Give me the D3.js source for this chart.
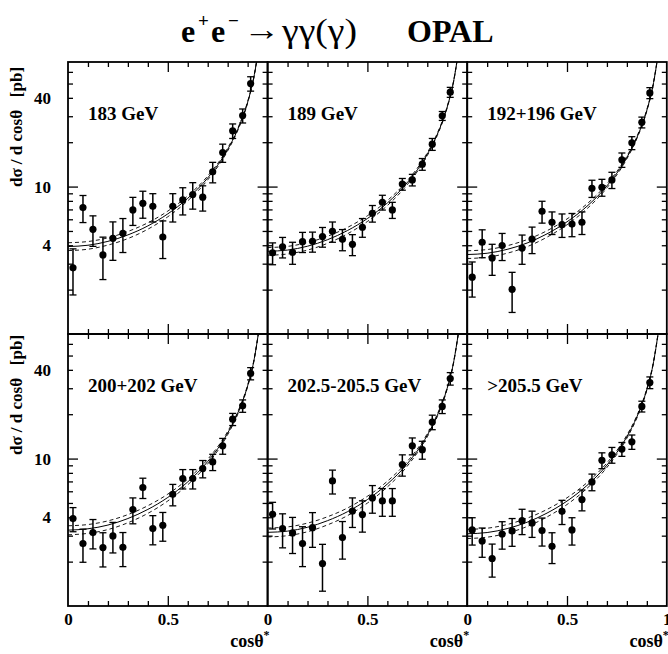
<!DOCTYPE html>
<html>
<head>
<meta charset="utf-8">
<script src="https://cdn.jsdelivr.net/npm/d3@7"></script>
<style>
body { margin: 0; background: #fff; }
svg { display: block; font-family: "Liberation Serif", "Times New Roman", serif; font-weight: bold; }
</style>
</head>
<body>
<svg id="svg_opal" width="668" height="654"></svg>
<script>
// energy points, one panel each
var panelLabels = ["183 GeV", "189 GeV", "192+196 GeV", "200+202 GeV", "202.5-205.5 GeV", ">205.5 GeV"];

// bin centres in cos theta*
var binCentres = [0.025, 0.075, 0.125, 0.175, 0.225, 0.275, 0.325, 0.375, 0.425, 0.475,
	0.525, 0.575, 0.625, 0.675, 0.725, 0.775, 0.825, 0.875, 0.915];

// measured d sigma / d cos theta [pb] and errors
var xsec183 = [2.81, 7.2, 5.13, 3.44, 4.46, 4.82, 6.95, 7.7, 7.35, 4.55, 7.35, 8.12, 8.83, 8.47, 12.6, 17.0, 23.9, 30.3, 50.0];
var err183 = [0.97, 1.5, 1.2, 1.1, 1.3, 1.25, 1.5, 1.6, 1.6, 1.3, 1.6, 1.7, 1.8, 1.65, 2.0, 2.4, 2.7, 3.3, 5.6];
var xsec189 = [3.55, 3.90, 3.58, 4.23, 4.25, 4.58, 4.97, 4.39, 4.06, 5.30, 6.59, 7.83, 6.95, 10.4, 11.1, 14.2, 19.4, 30.2, 43.7];
var err189 = [0.6, 0.62, 0.61, 0.66, 0.66, 0.7, 0.78, 0.72, 0.66, 0.77, 0.85, 0.9, 0.87, 0.95, 1.0, 1.3, 1.8, 2.1, 3.4];
var xsec194 = [2.43, 4.19, 3.28, 3.98, 2.01, 3.83, 4.41, 6.80, 5.73, 5.52, 5.57, 5.73, 9.74, 9.9, 11.1, 15.2, 19.8, 27.3, 43.2];
var err194 = [0.65, 0.9, 0.78, 0.83, 0.61, 0.86, 0.9, 1.15, 1.0, 1.0, 1.0, 1.0, 1.3, 1.3, 1.4, 1.7, 2.0, 2.3, 3.7];
var xsec201 = [3.92, 2.65, 3.15, 2.49, 2.99, 2.50, 4.51, 6.36, 3.35, 3.53, 5.73, 7.32, 7.32, 8.55, 9.49, 12.2, 18.5, 22.8, 37.8];
var err201 = [0.73, 0.67, 0.71, 0.65, 0.7, 0.65, 0.9, 1.0, 0.75, 0.78, 0.95, 1.1, 1.1, 1.15, 1.2, 1.5, 1.75, 2.2, 3.6];
var xsec204 = [4.19, 3.35, 3.13, 2.65, 3.40, 1.94, 7.05, 2.91, 4.41, 4.17, 5.41, 5.16, 5.16, 9.10, 12.2, 11.5, 17.7, 22.6, 34.9];
var err204 = [0.86, 0.87, 0.86, 0.8, 0.9, 0.68, 1.3, 0.83, 1.0, 1.0, 1.15, 1.1, 1.1, 1.5, 1.6, 1.6, 2.0, 2.4, 3.4];
var xsec206 = [3.28, 2.76, 2.10, 3.08, 3.23, 3.79, 3.66, 3.25, 2.54, 4.39, 3.28, 5.27, 6.95, 9.74, 10.6, 11.6, 13.0, 22.6, 32.8];
var err206 = [0.69, 0.62, 0.53, 0.65, 0.69, 0.74, 0.74, 0.7, 0.6, 0.82, 0.69, 0.85, 0.9, 1.2, 1.3, 1.25, 1.45, 1.9, 3.0];

// QED prediction (solid) and the two dashed limit curves, read at these cos theta* values
var curveCos = [0, 0.1, 0.2, 0.3, 0.4, 0.5, 0.6, 0.7, 0.8, 0.85, 0.9, 0.93, 0.96];
var qed183 = [3.92, 4.00, 4.25, 4.70, 5.41, 6.53, 8.33, 11.45, 17.86, 24.33, 37.34, 54.10, 96.08];
var lamPlus183 = [4.16, 4.24, 4.49, 4.96, 5.68, 6.82, 8.65, 11.80, 18.25, 24.74, 37.77, 54.54, 96.53];
var lamMinus183 = [3.68, 3.76, 4.01, 4.44, 5.14, 6.24, 8.01, 11.10, 17.47, 23.92, 36.91, 53.66, 95.63];
var qed189 = [3.64, 3.71, 3.94, 4.36, 5.03, 6.07, 7.74, 10.64, 16.58, 22.59, 34.67, 50.23, 89.22];
var lamPlus189 = [3.86, 3.93, 4.17, 4.60, 5.28, 6.34, 8.04, 10.97, 16.94, 22.97, 35.07, 50.64, 89.64];
var lamMinus189 = [3.42, 3.49, 3.71, 4.12, 4.78, 5.80, 7.44, 10.31, 16.22, 22.21, 34.27, 49.82, 88.80];
var qed194 = [3.46, 3.53, 3.75, 4.14, 4.78, 5.77, 7.35, 10.11, 15.76, 21.48, 32.96, 47.75, 84.80];
var lamPlus194 = [3.67, 3.74, 3.97, 4.37, 5.02, 6.03, 7.63, 10.42, 16.10, 21.84, 33.34, 48.14, 85.20];
var lamMinus194 = [3.25, 3.32, 3.53, 3.91, 4.54, 5.51, 7.07, 9.80, 15.42, 21.12, 32.58, 47.36, 84.40];
var qed201 = [3.27, 3.34, 3.54, 3.92, 4.52, 5.45, 6.95, 9.55, 14.90, 20.30, 31.15, 45.13, 80.15];
var lamPlus201 = [3.50, 3.57, 3.78, 4.17, 4.79, 5.74, 7.26, 9.89, 15.28, 20.69, 31.56, 45.56, 80.59];
var lamMinus201 = [3.04, 3.11, 3.30, 3.67, 4.25, 5.16, 6.64, 9.21, 14.52, 19.91, 30.74, 44.70, 79.71];
var qed204 = [3.16, 3.22, 3.42, 3.79, 4.36, 5.27, 6.72, 9.23, 14.40, 19.61, 30.10, 43.61, 77.45];
var lamPlus204 = [3.38, 3.44, 3.65, 4.03, 4.62, 5.55, 7.02, 9.56, 14.76, 19.99, 30.50, 44.02, 77.88];
var lamMinus204 = [2.94, 3.00, 3.19, 3.55, 4.10, 4.99, 6.42, 8.90, 14.04, 19.23, 29.70, 43.20, 77.02];
var qed206 = [3.09, 3.15, 3.35, 3.70, 4.27, 5.15, 6.57, 9.03, 14.08, 19.18, 29.44, 42.64, 75.74];
var lamPlus206 = [3.31, 3.37, 3.57, 3.94, 4.52, 5.42, 6.86, 9.35, 14.43, 19.55, 29.83, 43.05, 76.16];
var lamMinus206 = [2.87, 2.93, 3.12, 3.46, 4.02, 4.88, 6.28, 8.71, 13.73, 18.81, 29.05, 42.24, 75.32];

// axis ticks
var xMinorTicks = [0.1, 0.2, 0.3, 0.4, 0.6, 0.7, 0.8, 0.9];
var xMajorTicks = [0.5];
var yMinorTicks = [2, 3, 4, 5, 6, 7, 8, 9, 20, 30, 40, 50, 60];
var yMajorTicks = [10];
var xTickLabels = [0, 0.5, 1];
var yTickLabels = [4, 10, 40];

var panels = [
	{label: panelLabels[0], val: xsec183, err: err183, qed: qed183, lp: lamPlus183, lm: lamMinus183},
	{label: panelLabels[1], val: xsec189, err: err189, qed: qed189, lp: lamPlus189, lm: lamMinus189},
	{label: panelLabels[2], val: xsec194, err: err194, qed: qed194, lp: lamPlus194, lm: lamMinus194},
	{label: panelLabels[3], val: xsec201, err: err201, qed: qed201, lp: lamPlus201, lm: lamMinus201},
	{label: panelLabels[4], val: xsec204, err: err204, qed: qed204, lp: lamPlus204, lm: lamMinus204},
	{label: panelLabels[5], val: xsec206, err: err206, qed: qed206, lp: lamPlus206, lm: lamMinus206}
];

var svg = d3.select("#svg_opal"),
	panelW = 199.6,
	panelH = 272,
	marginLeft = 68,
	marginTop = 62;

var x = d3.scaleLinear().domain([0, 1]).range([0, panelW]);
var y = d3.scaleLog().domain([1, 70]).range([panelH, 0]);

svg.append("defs").append("clipPath").attr("id", "panel_clip")
	.append("rect").attr("width", panelW).attr("height", panelH);

function tickAxis(g, axis, values, size) {
	g.call(axis.tickValues(values).tickSize(-size).tickFormat(""));
	g.select(".domain").remove();
	g.selectAll("line").attr("stroke", "#000").attr("stroke-width", 1.3);
}

function renderPanel(p, i) {
	var col = i % 3, row = Math.floor(i / 3);
	var g = svg.append("g")
		.attr("transform", "translate(" + (marginLeft + col * panelW) + "," + (marginTop + row * panelH) + ")");

	// curves
	var curvePts = function(arr) {
		return arr.map(function(v, k) { return {c: curveCos[k], v: v}; });
	};
	var line = d3.line()
		.x(function(d) { return x(d.c); })
		.y(function(d) { return y(d.v); })
		.curve(d3.curveMonotoneX);
	var gc = g.append("g").attr("clip-path", "url(#panel_clip)");
	gc.append("path").attr("d", line(curvePts(p.lp)))
		.attr("fill", "none").attr("stroke", "#000").attr("stroke-width", 0.9)
		.attr("stroke-dasharray", "4,3");
	gc.append("path").attr("d", line(curvePts(p.lm)))
		.attr("fill", "none").attr("stroke", "#000").attr("stroke-width", 0.9)
		.attr("stroke-dasharray", "4,3");
	gc.append("path").attr("d", line(curvePts(p.qed)))
		.attr("fill", "none").attr("stroke", "#000").attr("stroke-width", 1);

	// data points with error bars
	var pts = p.val.map(function(v, k) {
		return {c: binCentres[k], v: v, e: p.err[k]};
	});
	var gp = g.append("g").selectAll("g").data(pts).enter().append("g");
	gp.append("line")
		.attr("x1", function(d) { return x(d.c); })
		.attr("x2", function(d) { return x(d.c); })
		.attr("y1", function(d) { return y(d.v - d.e); })
		.attr("y2", function(d) { return y(d.v + d.e); })
		.attr("stroke", "#000").attr("stroke-width", 1.5);
	[-1, 1].forEach(function(s) {
		gp.append("line")
			.attr("x1", function(d) { return x(d.c) - 3.5; })
			.attr("x2", function(d) { return x(d.c) + 3.5; })
			.attr("y1", function(d) { return y(d.v + s * d.e); })
			.attr("y2", function(d) { return y(d.v + s * d.e); })
			.attr("stroke", "#000").attr("stroke-width", 1.3);
	});
	gp.append("circle")
		.attr("cx", function(d) { return x(d.c); })
		.attr("cy", function(d) { return y(d.v); })
		.attr("r", 3.6)
		.attr("fill", "#000");

	// inward ticks on all four sides
	tickAxis(g.append("g").attr("transform", "translate(0," + panelH + ")"), d3.axisBottom(x), xMinorTicks, 5);
	tickAxis(g.append("g").attr("transform", "translate(0," + panelH + ")"), d3.axisBottom(x), xMajorTicks, 10);
	tickAxis(g.append("g"), d3.axisTop(x), xMinorTicks, 5);
	tickAxis(g.append("g"), d3.axisTop(x), xMajorTicks, 10);
	tickAxis(g.append("g"), d3.axisLeft(y), yMinorTicks, 5);
	tickAxis(g.append("g"), d3.axisLeft(y), yMajorTicks, 10);
	tickAxis(g.append("g").attr("transform", "translate(" + panelW + ",0)"), d3.axisRight(y), yMinorTicks, 5);
	tickAxis(g.append("g").attr("transform", "translate(" + panelW + ",0)"), d3.axisRight(y), yMajorTicks, 10);

	g.append("rect")
		.attr("width", panelW).attr("height", panelH)
		.attr("fill", "none").attr("stroke", "#000").attr("stroke-width", 1.8);

	g.append("text")
		.attr("x", 20).attr("y", 58)
		.attr("font-size", 19)
		.text(p.label);

	if (col == 0) {
		var ya = g.append("g")
			.call(d3.axisLeft(y).tickValues(yTickLabels).tickSize(0).tickPadding(17).tickFormat(d3.format("d")));
		ya.select(".domain").remove();
		ya.attr("font-family", null).attr("font-size", 17);

		g.append("text")
			.attr("transform", "translate(-46," + (row == 0 ? 65 : 61) + ") rotate(-90)")
			.attr("text-anchor", "middle")
			.attr("font-size", 17)
			.style("white-space", "pre")
			.text("d\u03c3 / d cos\u03b8   [pb]");
	}

	if (row == 1) {
		var xa = g.append("g").attr("transform", "translate(0," + panelH + ")")
			.call(d3.axisBottom(x)
				.tickValues(col == 2 ? xTickLabels : xTickLabels.slice(0, 2))
				.tickSize(0).tickPadding(7)
				.tickFormat(function(d) { return d == 0.5 ? "0.5" : d3.format("d")(d); }));
		xa.select(".domain").remove();
		xa.attr("font-family", null).attr("font-size", 17);

		var t = g.append("text")
			.attr("x", panelW + 2).attr("y", panelH + 41)
			.attr("text-anchor", "end")
			.attr("font-size", 18);
		t.append("tspan").text("cos\u03b8");
		t.append("tspan").attr("font-size", 12).attr("dy", -8).text("*");
	}
}

panels.forEach(renderPanel);

// title, placed piece by piece
var titleY = 42;
svg.append("text").attr("x", 181).attr("y", titleY).attr("font-size", 32).text("e");
svg.append("text").attr("x", 198).attr("y", titleY - 15).attr("font-size", 19).text("+");
svg.append("text").attr("x", 211).attr("y", titleY).attr("font-size", 32).text("e");
svg.append("text").attr("x", 228).attr("y", titleY - 15).attr("font-size", 19).text("\u2212");
svg.append("text").attr("x", 243).attr("y", titleY - 2).attr("font-size", 32)
	.attr("font-weight", "normal")
	.attr("textLength", 37).attr("lengthAdjust", "spacingAndGlyphs")
	.text("\u2192");
svg.append("text").attr("x", 282).attr("y", titleY).attr("font-size", 33)
	.attr("font-weight", "normal")
	.attr("textLength", 75).attr("lengthAdjust", "spacingAndGlyphs")
	.text("\u03b3\u03b3(\u03b3)");
svg.append("text").attr("x", 407).attr("y", titleY).attr("font-size", 32).text("OPAL");
</script>
</body>
</html>
